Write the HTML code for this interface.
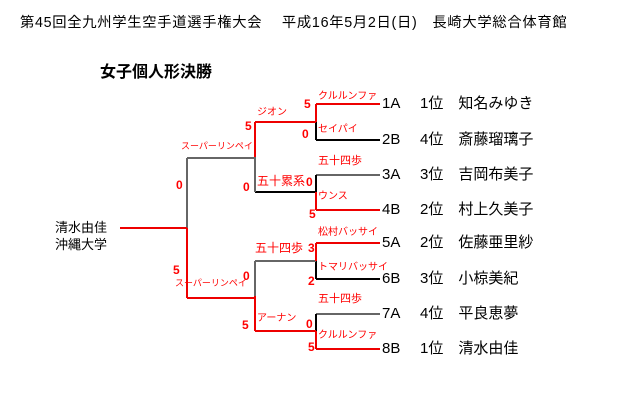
<!DOCTYPE html>
<html><head><meta charset="utf-8"><style>
body{margin:0;width:640px;height:410px;background:#fff;position:relative;overflow:hidden;font-family:"Liberation Sans","Noto Sans CJK JP",sans-serif;}
.t{position:absolute;white-space:nowrap;color:#000;font-size:15px;line-height:16px;}
.r{position:absolute;white-space:nowrap;color:#f00;font-size:10px;line-height:11px;}
.s{position:absolute;white-space:nowrap;color:#f00;font-size:12px;font-weight:bold;line-height:12px;}
</style></head><body>
<div class="t" style="left:20px;top:15px;font-size:14.3px;letter-spacing:0.7px">第45回全九州学生空手道選手権大会　 平成16年5月2日(日)　長崎大学総合体育館</div>
<div class="t" style="left:100px;top:64px;font-size:16px;font-weight:bold;line-height:18px">女子個人形決勝</div>
<svg width="640" height="410" style="position:absolute;left:0;top:0" shape-rendering="crispEdges">
<g stroke-width="2" fill="none">
<line x1="316" y1="140" x2="380" y2="140" stroke="#000"/>
<line x1="316" y1="175" x2="380" y2="175" stroke="#666"/>
<line x1="316" y1="279" x2="380" y2="279" stroke="#000"/>
<line x1="316" y1="314" x2="380" y2="314" stroke="#666"/>
<line x1="316" y1="122" x2="316" y2="140" stroke="#000"/>
<line x1="316" y1="175" x2="316" y2="192" stroke="#000"/>
<line x1="255" y1="192" x2="316" y2="192" stroke="#000"/>
<line x1="316" y1="261" x2="316" y2="279" stroke="#000"/>
<line x1="316" y1="314" x2="316" y2="331" stroke="#000"/>
<line x1="255" y1="157" x2="255" y2="192" stroke="#666"/>
<line x1="255" y1="261" x2="255" y2="296" stroke="#666"/>
<line x1="255" y1="261" x2="316" y2="261" stroke="#666"/>
<line x1="187" y1="158" x2="255" y2="158" stroke="#666"/>
<line x1="187" y1="158" x2="187" y2="228" stroke="#666"/>
<g stroke="#e00">
<line x1="316" y1="104" x2="380" y2="104"/>
<line x1="316" y1="104" x2="316" y2="122"/>
<line x1="255" y1="122" x2="316" y2="122"/>
<line x1="255" y1="122" x2="255" y2="157"/>
<line x1="316" y1="210" x2="380" y2="210"/>
<line x1="316" y1="192" x2="316" y2="210"/>
<line x1="316" y1="243" x2="380" y2="243"/>
<line x1="316" y1="243" x2="316" y2="261"/>
<line x1="316" y1="349" x2="380" y2="349"/>
<line x1="316" y1="331" x2="316" y2="349"/>
<line x1="255" y1="331" x2="316" y2="331"/>
<line x1="255" y1="296" x2="255" y2="331"/>
<line x1="187" y1="298" x2="255" y2="298"/>
<line x1="187" y1="228" x2="187" y2="298"/>
<line x1="120" y1="228" x2="187" y2="228"/>
</g></g></svg>
<div class="t" style="left:382px;top:96px">1A</div>
<div class="t" style="left:382px;top:132px">2B</div>
<div class="t" style="left:382px;top:167px">3A</div>
<div class="t" style="left:382px;top:202px">4B</div>
<div class="t" style="left:382px;top:235px">5A</div>
<div class="t" style="left:382px;top:271px">6B</div>
<div class="t" style="left:382px;top:306px">7A</div>
<div class="t" style="left:382px;top:341px">8B</div>
<div class="t" style="left:420px;top:96px">1位　知名みゆき</div>
<div class="t" style="left:420px;top:132px">4位　斎藤瑠璃子</div>
<div class="t" style="left:420px;top:167px">3位　吉岡布美子</div>
<div class="t" style="left:420px;top:202px">2位　村上久美子</div>
<div class="t" style="left:420px;top:235px">2位　佐藤亜里紗</div>
<div class="t" style="left:420px;top:271px">3位　小椋美紀</div>
<div class="t" style="left:420px;top:306px">4位　平良恵夢</div>
<div class="t" style="left:420px;top:341px">1位　清水由佳</div>
<div class="t" style="left:55px;top:220px;font-size:13px">清水由佳</div>
<div class="t" style="left:55px;top:237px;font-size:13px">沖縄大学</div>
<div class="r" style="left:318px;top:91px">クルルンファ</div>
<div class="r" style="left:318px;top:124px">セイパイ</div>
<div class="r" style="left:318px;top:156px;font-size:11px">五十四歩</div>
<div class="r" style="left:318px;top:191px">ウンス</div>
<div class="r" style="left:318px;top:227px">松村バッサイ</div>
<div class="r" style="left:318px;top:262px">トマリバッサイ</div>
<div class="r" style="left:318px;top:294px;font-size:11px">五十四歩</div>
<div class="r" style="left:318px;top:330px">クルルンファ</div>
<div class="r" style="left:257px;top:107px">ジオン</div>
<div class="r" style="left:257px;top:175px;font-size:12px;line-height:13px">五十累系</div>
<div class="r" style="left:255px;top:242px;font-size:12px;line-height:13px">五十四歩</div>
<div class="r" style="left:257px;top:313px">アーナン</div>
<div class="r" style="left:181px;top:141px;font-size:9px">スーパーリンペイ</div>
<div class="r" style="left:175px;top:278px;font-size:9px">スーパーリンペイ</div>
<div class="s" style="left:304px;top:98px">5</div>
<div class="s" style="left:302px;top:128px">0</div>
<div class="s" style="left:306px;top:176px">0</div>
<div class="s" style="left:309px;top:208px">5</div>
<div class="s" style="left:308px;top:242px">3</div>
<div class="s" style="left:308px;top:275px">2</div>
<div class="s" style="left:306px;top:318px">0</div>
<div class="s" style="left:308px;top:341px">5</div>
<div class="s" style="left:245px;top:120px">5</div>
<div class="s" style="left:243px;top:181px">0</div>
<div class="s" style="left:243px;top:270px">0</div>
<div class="s" style="left:242px;top:319px">5</div>
<div class="s" style="left:176px;top:179px">0</div>
<div class="s" style="left:173px;top:264px">5</div>
</body></html>
